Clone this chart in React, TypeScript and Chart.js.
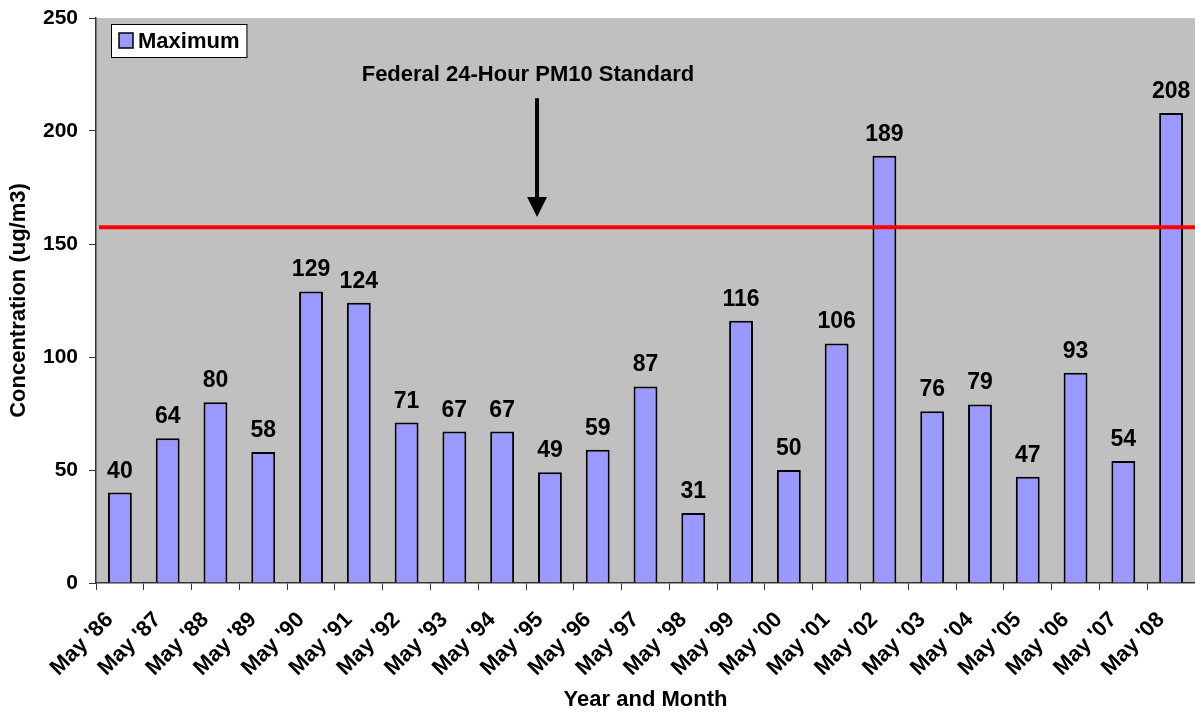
import React, { useEffect, useRef } from "react";
import { Chart, registerables } from "chart.js";

Chart.register(...registerables);

const categories: string[] = [
  "May '86", "May '87", "May '88", "May '89", "May '90", "May '91", "May '92", "May '93",
  "May '94", "May '95", "May '96", "May '97", "May '98", "May '99", "May '00", "May '01",
  "May '02", "May '03", "May '04", "May '05", "May '06", "May '07", "May '08",
];
const maximumValues: number[] = [
  40, 64, 80, 58, 129, 124, 71, 67, 67, 49, 59, 87, 31, 116, 50, 106, 189, 76, 79, 47, 93, 54, 208,
];
const standardLevel: number[] = [157.4];
const annotationText: string[] = ["Federal 24-Hour PM10 Standard"];
// annotation anchor in data units: [category index, value]
const annotationTextPos: number[] = [8.54, 224.6];
const arrowFrom: number[] = [8.73, 214.5];
const arrowTo: number[] = [8.73, 162];

const FONT = "'Liberation Sans', Arial, sans-serif";

export default function App() {
  const ref = useRef<HTMLCanvasElement | null>(null);

  useEffect(() => {
    document.body.style.margin = "0";
    const canvas = ref.current;
    if (!canvas) return;

    const bgPlugin = {
      id: "plotBg",
      beforeDraw(chart: any) {
        const { ctx, chartArea } = chart;
        ctx.save();
        ctx.fillStyle = "#C0C0C0";
        ctx.fillRect(chartArea.left, chartArea.top, chartArea.right - chartArea.left, chartArea.bottom - chartArea.top);
        ctx.restore();
      },
    };

    const overlayPlugin = {
      id: "overlay",
      afterDatasetsDraw(chart: any) {
        const { ctx, chartArea, scales } = chart;
        const xs = scales.x;
        const ys = scales.y;
        ctx.save();

        // standard line
        const ly = ys.getPixelForValue(standardLevel[0]);
        ctx.strokeStyle = "#FF0000";
        ctx.lineWidth = 4;
        ctx.beginPath();
        ctx.moveTo(chartArea.left + 3, ly);
        ctx.lineTo(chartArea.right, ly);
        ctx.stroke();

        // value labels
        const meta = chart.getDatasetMeta(0);
        ctx.fillStyle = "#000";
        ctx.font = `bold 23px ${FONT}`;
        ctx.textAlign = "center";
        ctx.textBaseline = "alphabetic";
        meta.data.forEach((bar: any, i: number) => {
          ctx.fillText(String(maximumValues[i]), bar.x, bar.y - 15);
        });

        // annotation text
        ctx.font = `bold 22px ${FONT}`;
        ctx.textBaseline = "middle";
        ctx.fillText(
          annotationText[0],
          xs.getPixelForValue(annotationTextPos[0]),
          ys.getPixelForValue(annotationTextPos[1])
        );

        // arrow
        const ax = xs.getPixelForValue(arrowFrom[0]);
        const ay0 = ys.getPixelForValue(arrowFrom[1]);
        const ay1 = ys.getPixelForValue(arrowTo[1]);
        ctx.strokeStyle = "#000";
        ctx.lineWidth = 4;
        ctx.beginPath();
        ctx.moveTo(ax, ay0);
        ctx.lineTo(ax, ay1 - 16);
        ctx.stroke();
        ctx.beginPath();
        ctx.moveTo(ax - 10, ay1 - 20);
        ctx.lineTo(ax + 10, ay1 - 20);
        ctx.lineTo(ax, ay1);
        ctx.closePath();
        ctx.fill();

        // legend
        const lx = chartArea.left + 15;
        const lt = chartArea.top + 6;
        ctx.font = `bold 22px ${FONT}`;
        const tw = ctx.measureText("Maximum").width;
        const lw = 27 + tw + 7;
        const lh = 33;
        ctx.fillStyle = "#FFFFFF";
        ctx.fillRect(lx, lt, lw, lh);
        ctx.strokeStyle = "#000";
        ctx.lineWidth = 1;
        ctx.strokeRect(lx + 0.5, lt + 0.5, lw, lh);
        ctx.fillStyle = "#9999FF";
        ctx.fillRect(lx + 8, lt + 9, 14, 15);
        ctx.lineWidth = 1.5;
        ctx.strokeRect(lx + 8, lt + 9, 14, 15);
        ctx.fillStyle = "#000";
        ctx.textAlign = "left";
        ctx.textBaseline = "middle";
        ctx.fillText("Maximum", lx + 27, lt + lh / 2 + 1);

        ctx.restore();
      },
    };

    const chart = new Chart(canvas, {
      type: "bar",
      data: {
        labels: categories,
        datasets: [
          {
            label: "Maximum",
            data: maximumValues,
            backgroundColor: "#9999FF",
            borderColor: "#000000",
            borderWidth: 2,
            barPercentage: 0.5,
            categoryPercentage: 1,
          },
        ],
      },
      options: {
        responsive: false,
        animation: false,
        devicePixelRatio: 1,
        layout: { padding: { top: 18, right: 0, left: 0, bottom: 0 } },
        plugins: {
          legend: { display: false },
          tooltip: { enabled: false },
        },
        scales: {
          x: {
            offset: true,
            grid: {
              display: true,
              drawOnChartArea: false,
              offset: true,
              tickLength: 7,
              color: "#333",
            },
            border: { display: true, color: "#333", width: 1.5 },
            ticks: {
              autoSkip: false,
              maxRotation: 45,
              minRotation: 45,
              padding: 17,
              labelOffset: -10,
              color: "#000",
              font: { family: FONT, size: 22, weight: "bold" },
            },
            title: {
              display: true,
              text: "Year and Month",
              color: "#000",
              font: { family: FONT, size: 22, weight: "bold" },
              padding: { top: 0, bottom: 0 },
            },
            afterFit(scale: any) {
              scale.height = 130;
              scale.paddingLeft = 0;
              scale.paddingRight = 0;
            },
          },
          y: {
            min: 0,
            max: 250,
            ticks: {
              stepSize: 50,
              padding: 11,
              color: "#000",
              font: { family: FONT, size: 21, weight: "bold" },
            },
            grid: {
              display: true,
              drawOnChartArea: false,
              tickLength: 7,
              color: "#333",
            },
            border: { display: true, color: "#333", width: 1.5 },
            title: {
              display: true,
              text: "Concentration (ug/m3)",
              color: "#000",
              font: { family: FONT, size: 22, weight: "bold" },
              padding: { top: 6, bottom: 4 },
            },
            afterFit(scale: any) {
              scale.width = 96;
              scale.paddingTop = 0;
              scale.paddingBottom = 0;
            },
          },
        },
      },
      plugins: [bgPlugin, overlayPlugin],
    });

    return () => chart.destroy();
  }, []);

  return (
    <div style={{ position: "absolute", left: 0, top: 0, width: 1195, height: 713, background: "#fff" }}>
      <canvas ref={ref} width={1195} height={713} style={{ display: "block" }} />
    </div>
  );
}
